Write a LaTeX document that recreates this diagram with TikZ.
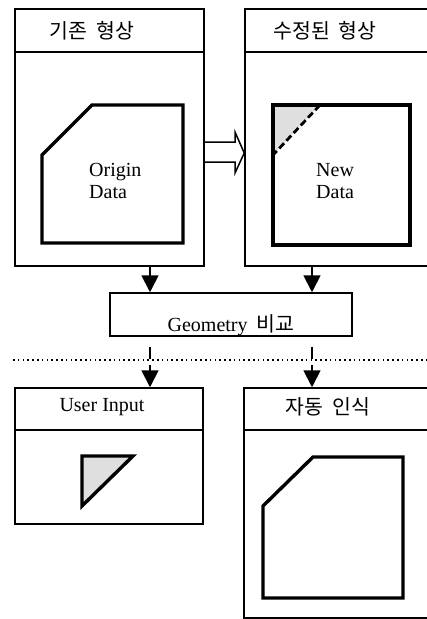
\documentclass[tikz,border=0pt]{standalone}
\usepackage{fontspec}
\setmainfont{Liberation Serif}
\newfontfamily\kr{Noto Sans CJK KR}
\usetikzlibrary{arrows.meta,calc}
\tikzset{
  frame/.style={draw, line width=1.5pt, inner sep=0pt},
  rule/.style={line width=1.5pt},
  outline/.style={draw, line width=3.4pt, line join=miter},
  flow/.style={line width=1.8pt, -{Triangle[length=17pt,width=17pt]}},
  dflow/.style={flow, dash pattern=on 12pt off 6pt},
  sep/.style={line width=1.5pt, dash pattern=on 1.5pt off 3.3pt},
  txt/.style={font=\fontsize{20}{21}\selectfont, inner sep=0pt},
  krtxt/.style={font=\kr\fontsize{20.5}{21}\selectfont, inner sep=0pt},
  hatch/.style={fill=gray!25}
}
\begin{document}
\begin{tikzpicture}[x=1pt,y=-1pt]
\clip (0,0) rectangle (427,619);
\fill[white] (0,0) rectangle (427,619);

% frames
\node[frame, minimum width=189pt, minimum height=257pt] (ob) at (109.5,137.5) {};
\node[frame, minimum width=184pt, minimum height=257pt] (nb) at (337,137.5) {};
\node[frame, minimum width=242pt, minimum height=43pt] (geo) at (231,314.5) {};
\node[frame, minimum width=188pt, minimum height=136pt] (ui) at (109,456) {};
\node[frame, minimum width=185pt, minimum height=230pt] (ai) at (336.5,503) {};

% header rules
\draw[rule] (ob.west |- 0,52) -- (ob.east |- 0,52);
\draw[rule] (nb.west |- 0,52) -- (nb.east |- 0,52);
\draw[rule] (ui.west |- 0,430) -- (ui.east |- 0,430);
\draw[rule] (ai.west |- 0,430) -- (ai.east |- 0,430);

% headers
\node[krtxt] (h1) at (92,31) {기존\hspace{9pt}형상};
\node[krtxt] (h2) at (325,31) {수정된\hspace{9pt}형상};
\node[txt] (h3) at (102,407) {User Input};
\node[krtxt] (h4) at (328,407) {자동\hspace{9pt}인식};

% original geometry
\draw[outline] (92,105) -- (183,105) -- (183,243) -- (42,243) -- (42,155) -- cycle;
\node[txt, align=left, anchor=north west] (od) at (89,163) {Origin\\[1pt]Data};

% modified geometry
\fill[hatch] (273,105) -- (320,105) -- (273,155) -- cycle;
\draw[outline] (273,105) rectangle (410,245);
\draw[line width=2.8pt, dash pattern=on 7pt off 3.5pt] (320,105) -- (273,155);
\node[txt, align=left, anchor=north west] (nd) at (316,163) {New\\[1pt]Data};

% hollow arrow between the two frames
\draw[rule, line join=miter]
  (ob.east |- 0,142) -- (235,142) -- (235,132) -- (nb.west |- 0,153)
  -- (235,173) -- (235,162) -- (ob.east |- 0,162);

% comparison box
\node[inner sep=0pt, anchor=base] (gt) at (231,331)
  {\fontsize{20}{21}\selectfont Geometry\hspace{9pt}{\kr\fontsize{20.5}{21}\selectfont 비교}};

% flow columns
\coordinate (cl) at (150,0);
\coordinate (cr) at (312,0);
\draw[flow] (cl |- ob.south) -- (cl |- geo.north);
\draw[flow] (cr |- nb.south) -- (cr |- geo.north);
\draw[dflow] ($(cl |- geo.south)+(0,10)$) -- (cl |- ui.north);
\draw[dflow] ($(cr |- geo.south)+(0,10)$) -- (cr |- ai.north);

% separator
\coordinate (sl) at (13,360);
\coordinate (sr) at (427,360);
\draw[sep] (sl) -- (sr);

% user input result
\draw[outline, hatch] (82,456) -- (133,456) -- (82,506) -- cycle;

% recognised result
\draw[outline] (313,457) -- (403,457) -- (403,598) -- (263,598) -- (263,506) -- cycle;
\end{tikzpicture}
\end{document}
